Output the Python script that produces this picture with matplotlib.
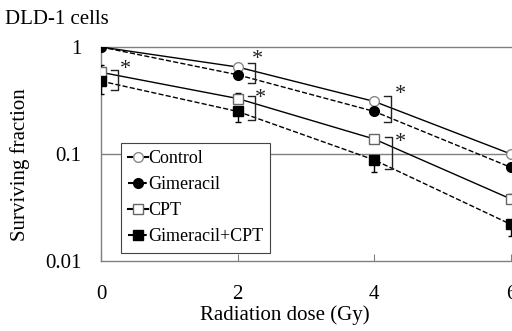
import matplotlib
matplotlib.use("Agg")
import matplotlib.pyplot as plt
from matplotlib.lines import Line2D

dose = [0, 2, 4, 6]
control = [1.0, 0.65, 0.31, 0.10]
gimeracil = [1.0, 0.55, 0.25, 0.075]
cpt = [0.58, 0.33, 0.138, 0.038]
gim_cpt = [0.48, 0.25, 0.088, 0.022]
cpt_err = [0.1, 0.04, 0.012, 0.004]
gim_cpt_err = [0.12, 0.05, 0.02, 0.005]
labels = ["Control", "Gimeracil", "CPT", "Gimeracil+CPT"]
xticks = [0, 2, 4, 6]
yticks = [0.01, 0.1, 1]
yticklabels = ["0.01", "0.1", "1"]
# significance brackets: x, low, high
brackets = [(0.25, 0.396, 0.61), (2.25, 0.461, 0.709), (2.25, 0.208, 0.348),
            (4.24, 0.199, 0.348), (4.26, 0.0725, 0.144)]
stars = [(0.36, 0.69), (2.29, 0.85), (2.34, 0.37), (4.38, 0.40), (4.38, 0.143)]

plt.rcParams['font.family'] = ['Liberation Serif', 'DejaVu Serif']

fig = plt.figure(figsize=(5.12, 3.31), dpi=100)
W, H = 512, 331
x0, x1 = 101, 545
y0, y1 = 261, 47
ax = fig.add_axes([x0 / W, 1 - y0 / H, (x1 - x0) / W, (y0 - y1) / H])
ax.set_yscale('log')
ax.set_ylim(0.01, 1)
ax.set_xlim(0, 6.5)

gray = '#808080'
for s in ax.spines.values():
    s.set_color(gray)
    s.set_linewidth(1)
ax.axhline(0.1, color=gray, lw=1, zorder=0)

ax.plot(dose, control, '-', color='black', lw=1, marker='o', mfc='white', mec='#888888', ms=7, zorder=3)
ax.plot(dose, gimeracil, '--', color='black', lw=1, marker='o', mfc='black', mec='black', ms=7, zorder=3)
ax.errorbar(dose, cpt, yerr=[[0]*4, cpt_err], fmt='-', color='black', lw=1, marker='s',
            mfc='white', mec='#666666', ms=7, capsize=2, elinewidth=1, zorder=3)
ax.errorbar(dose, gim_cpt, yerr=[gim_cpt_err, [0]*4], fmt='--', color='black', lw=1, marker='s',
            mfc='black', mec='black', ms=7, capsize=2, elinewidth=1, zorder=3)

for bx, lo, hi in brackets:
    ax.plot([bx - 0.1, bx, bx, bx - 0.1], [hi, hi, lo, lo], color='#222222', lw=1, zorder=4)
for sx, sy in stars:
    ax.annotate('*', (sx, sy), xytext=(0, -7), textcoords='offset points',
                fontsize=16, ha='center', va='baseline', color='#222222')

ax.set_xticks(xticks)
ax.set_xticklabels([str(t) for t in xticks])
ax.set_yticks(yticks)
ax.set_yticklabels(yticklabels)
ax.minorticks_off()
ax.tick_params(axis='x', direction='in', length=5, color=gray, labelsize=15, pad=17)
ax.tick_params(axis='y', direction='in', length=0, labelsize=15, pad=14)

fig.text(285 / W, 1 - 315 / H, 'Radiation dose (Gy)', fontsize=15, ha='center', va='center')
fig.text(20 / W, 1 - 165 / H, 'Surviving fraction', fontsize=15, ha='center', va='center', rotation=90)
fig.text(5 / W, 1 - 20 / H, 'DLD-1 cells', fontsize=15, va='center', ha='left')

handles = [
    Line2D([], [], color='black', ls='-', marker='o', mfc='white', mec='#888888', ms=7),
    Line2D([], [], color='black', ls='--', marker='o', mfc='black', mec='black', ms=7),
    Line2D([], [], color='black', ls='-', marker='s', mfc='white', mec='#666666', ms=7),
    Line2D([], [], color='black', ls='--', marker='s', mfc='black', mec='black', ms=7),
]
leg = ax.legend(handles, labels, loc='upper left', bbox_to_anchor=((121 - x0) / (x1 - x0), (261 - 143) / (y0 - y1)),
                fontsize=13, frameon=True, fancybox=False, edgecolor='#444444', framealpha=1,
                handlelength=1.1, handletextpad=0.0, labelspacing=0.5, borderpad=0.4, borderaxespad=0)
leg.get_frame().set_linewidth(0.8)

fig.savefig('out.png', dpi=100)
